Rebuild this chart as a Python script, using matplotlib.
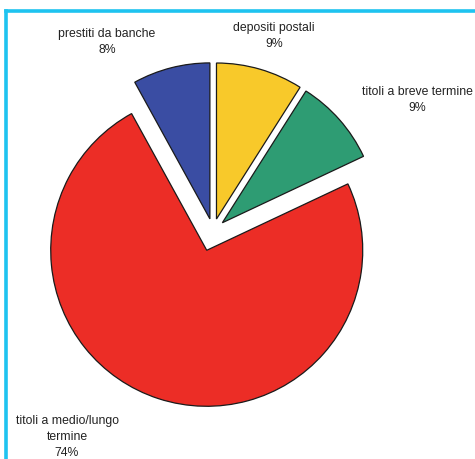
import matplotlib
matplotlib.use('Agg')
import matplotlib.pyplot as plt
from matplotlib.lines import Line2D

# data (clockwise from 12 o'clock)
categories = ['depositi postali', 'titoli a breve termine',
              'titoli a medio/lungo\ntermine', 'prestiti da banche']
values = [9, 9, 74, 8]
colors = ['#F8C92A', '#2E9C73', '#EC2D26', '#3A4DA3']
explode = [0.08, 0.08, 0.13, 0.08]

W, H = 475, 459
R_PX = 156.0          # pie radius in pixels
CX, CY = 213.0, 231.0  # pie centre in pixels (y from top)

fig = plt.figure(figsize=(W / 100, H / 100), dpi=100)
fig.patch.set_facecolor('white')
ax = fig.add_axes([0, 0, 1, 1])

ax.pie(values, colors=colors, explode=explode, startangle=90,
       counterclock=False, radius=1.0,
       wedgeprops=dict(edgecolor='#1a1a1a', linewidth=0.9))

# map pixels -> data units so the pie sits where it should
ax.set_xlim(-CX / R_PX, (W - CX) / R_PX)
ax.set_ylim(-(H - CY) / R_PX, CY / R_PX)
ax.set_aspect('equal')
ax.axis('off')

# labels (pixel positions of the text centres)
label_pos = [(274, 36), (417, 100), (67, 437), (107, 42)]
for cat, val, (px, py) in zip(categories, values, label_pos):
    fig.text(px / W, 1 - py / H, '%s\n%d%%' % (cat, val),
             ha='center', va='center', fontsize=8.8,
             family='Liberation Sans', color='#222222', linespacing=1.4)

# cyan frame (top and left side only visible)
frame = '#1EC3F0'
fig.add_artist(Line2D([6 / W, 1], [1 - 11 / H, 1 - 11 / H],
                      transform=fig.transFigure, color=frame, lw=2.6))
fig.add_artist(Line2D([6 / W, 6 / W], [0, 1 - 11 / H],
                      transform=fig.transFigure, color=frame, lw=2.6))

fig.savefig('out.png', dpi=100, facecolor='white')
